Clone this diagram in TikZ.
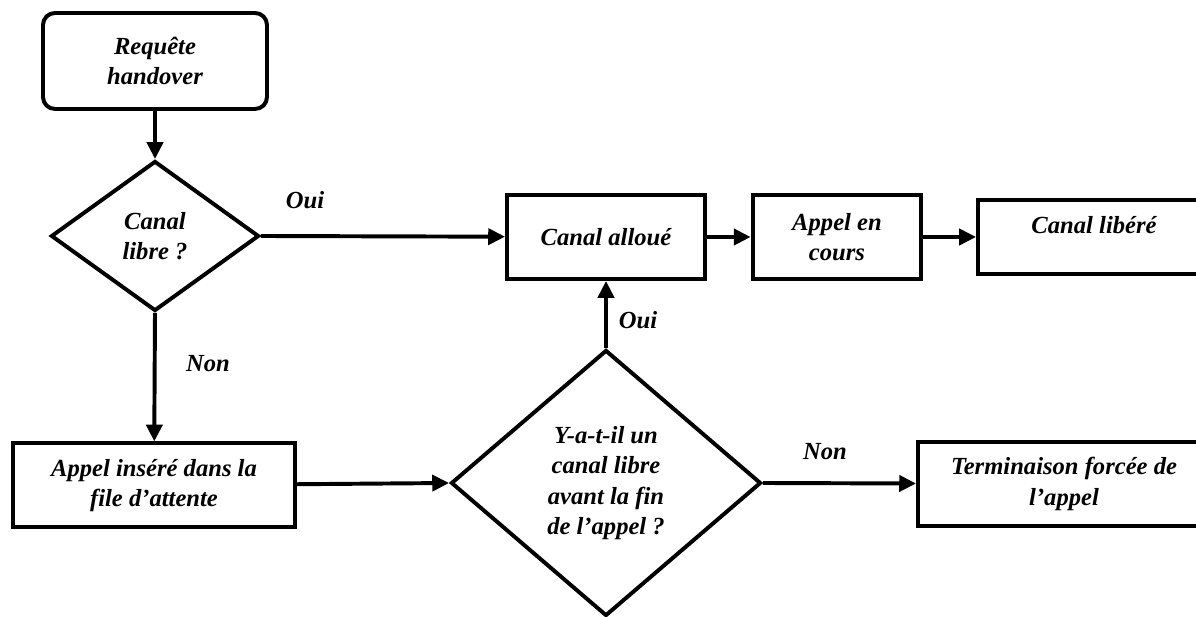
\documentclass[tikz,border=0pt]{standalone}
\usepackage{fontspec}
\setmainfont{Liberation Serif}
\usepackage{tikz}
\usetikzlibrary{arrows.meta}
\usetikzlibrary{shapes.geometric}
\tikzset{
  boite/.style={draw, line width=2.8pt, align=center, inner sep=0pt},
  losange/.style={draw, diamond, line width=2.8pt, align=center, inner sep=0pt},
  fleche/.style={line width=2.8pt, -{Triangle[length=0.42cm,width=0.4cm]}},
  texte/.style={font=\fontsize{17.5}{21.5}\selectfont\bfseries\itshape}
}

\begin{document}
\begin{tikzpicture}[every node/.style={texte}]
    \useasboundingbox (0cm,0cm) rectangle (29.9cm,15.425cm);  %cadre
    \node[boite, rounded corners=0.3cm, minimum width=5.6cm, minimum height=2.4cm]
      (requete) at (3.875cm,13.9cm) {Requête\\handover};  %debut
    \node[losange, minimum width=5.2cm, minimum height=3.75cm]
      (canal) at (3.875cm,9.525cm) {Canal\\libre ?};
    \node[boite, minimum width=4.95cm, minimum height=2.1cm]
      (alloue) at (15.15cm,9.5cm) {Canal alloué};
    \node[boite, minimum width=4.22cm, minimum height=2.1cm]
      (cours) at (20.925cm,9.5cm) {Appel en\\cours};
    \node[boite, minimum width=5.8cm, minimum height=1.85cm, text depth=0.6cm]
      (libere) at (27.35cm,9.5cm) {Canal libéré};  %depasse le bord droit
    \node[boite, minimum width=7.05cm, minimum height=2.1cm]
      (attente) at (3.85cm,3.29cm) {Appel inséré dans la\\file d’attente};
    \node[losange, minimum width=7.75cm, minimum height=6.65cm]
      (avant) at (15.15cm,3.35cm) {Y-a-t-il un\\canal libre\\avant la fin\\de l’appel ?};
    \node[boite, minimum width=7.3cm, minimum height=2.08cm]
      (force) at (26.6cm,3.325cm) {Terminaison forcée de\\l’appel};
    % etiquettes
    \node (oui1) at (7.625cm,10.425cm) {Oui};
    \node (non1) at (5.2cm,6.325cm) {Non};
    \node (oui2) at (15.95cm,7.425cm) {Oui};
    \node (non2) at (20.625cm,4.125cm) {Non};
    % fleches
    \draw[fleche] (requete) -- (canal.north);
    \draw[fleche] (canal.east) -- (alloue);
    \draw[fleche] (canal.south) -- (attente);
    \draw[fleche] (attente) -- (avant.west);
    \draw[fleche] (avant.north) -- (alloue);
    \draw[fleche] (avant.east) -- (force);
    \foreach \a/\b in {alloue/cours, cours/libere}
    {
      \draw[fleche] (\a) -- (\b);
    };
\end{tikzpicture}
\end{document}
